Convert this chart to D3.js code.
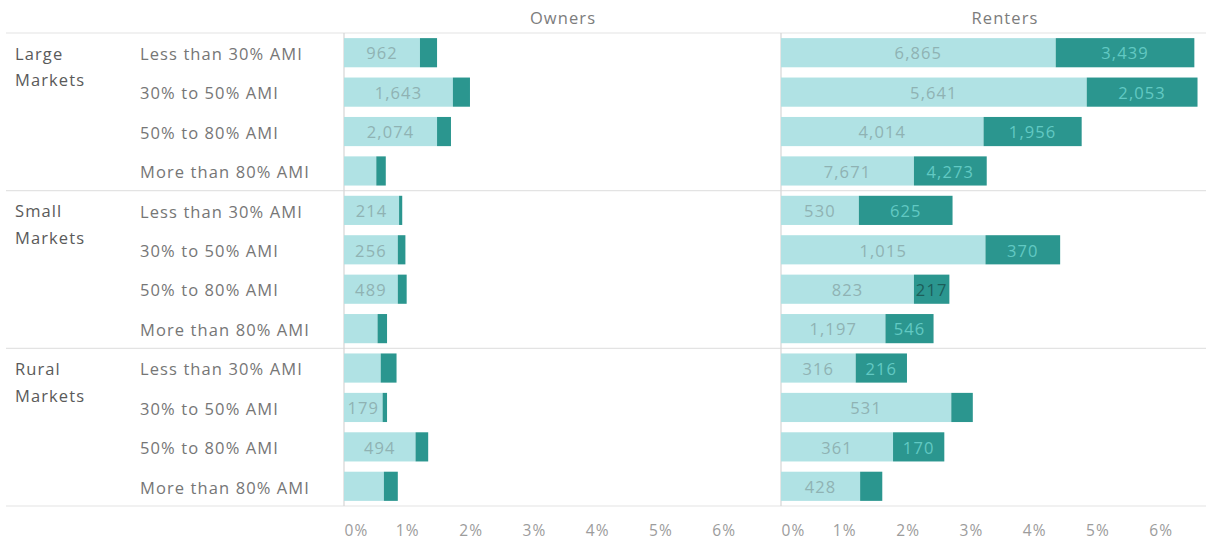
<!DOCTYPE html>
<html>
<head>
<meta charset="utf-8">
<script src="https://cdn.jsdelivr.net/npm/d3@7"></script>
<style>
  html, body { margin: 0; padding: 0; background: #ffffff; }
  svg { display: block; font-family: "Open Sans", Lato, sans-serif; }
</style>
</head>
<body>
<svg id="chart" width="1206" height="541"></svg>
<script>
// ---- data ----
const groups = ["Large Markets", "Small Markets", "Rural Markets"];
const groupLines = [["Large", "Markets"], ["Small", "Markets"], ["Rural", "Markets"]];
const incomeBands = ["Less than 30% AMI", "30% to 50% AMI", "50% to 80% AMI", "More than 80% AMI"];
const tenures = ["Owners", "Renters"];

// bar lengths (% of households), 12 rows: group x income band
const ownersLightPct  = [1.20, 1.72, 1.47, 0.51, 0.87, 0.85, 0.85, 0.53, 0.58, 0.61, 1.13, 0.63];
const ownersDarkPct   = [0.27, 0.27, 0.22, 0.15, 0.05, 0.12, 0.14, 0.15, 0.25, 0.07, 0.20, 0.22];
const rentersLightPct = [4.34, 4.83, 3.20, 2.10, 1.23, 3.23, 2.10, 1.65, 1.18, 2.69, 1.77, 1.25];
const rentersDarkPct  = [2.19, 1.75, 1.55, 1.15, 1.48, 1.18, 0.56, 0.76, 0.81, 0.34, 0.81, 0.35];

// mark labels (household counts); null = no label shown
const ownersLightLabel  = [962, 1643, 2074, null, 214, 256, 489, null, null, 179, 494, null];
const ownersDarkLabel   = [null, null, null, null, null, null, null, null, null, null, null, null];
const rentersLightLabel = [6865, 5641, 4014, 7671, 530, 1015, 823, 1197, 316, 531, 361, 428];
const rentersDarkLabel  = [3439, 2053, 1956, 4273, 625, 370, 217, 546, 216, null, 170, null];

const tickValues = [0, 1, 2, 3, 4, 5, 6];

// ---- build rows ----
const rows = [];
groups.forEach((g, gi) => incomeBands.forEach((b, bi) => rows.push({ key: g + "|" + b, group: gi, band: b })));
const series = {
  Owners:  { light: ownersLightPct,  dark: ownersDarkPct,  lightLab: ownersLightLabel,  darkLab: ownersDarkLabel },
  Renters: { light: rentersLightPct, dark: rentersDarkPct, lightLab: rentersLightLabel, darkLab: rentersDarkLabel }
};

// ---- layout ----
const svg = d3.select("#chart");
const W = 1206, H = 541;
const yTop = 33, yBottom = 506;
const panelX0 = { Owners: 344, Renters: 781 };
const panelW = 437;
const LIGHT = "#b0e2e4", DARK = "#2b968f";
const LIGHT_TXT = "#8fb2b3", DARK_TXT = "#62c9c3", OVER_TXT = "#1c5e5a";
const GRID = "#e3e3e3";
const LS = "1.1px";
const FS = 16.5;

const y = d3.scaleBand().domain(rows.map(r => r.key)).range([yTop, yBottom]).paddingInner(0.26).paddingOuter(0.13);
const x = d3.scaleLinear().domain([0, panelW / 63.3]).range([0, panelW]);
const fmt = d3.format(",");

// headers
tenures.forEach(t => {
  svg.append("text")
    .attr("x", t === "Owners" ? panelX0[t] + 219 : 1005)
    .attr("y", 18).attr("dy", "0.35em")
    .attr("text-anchor", "middle")
    .attr("fill", "#7c7c7c").attr("font-size", FS).attr("letter-spacing", LS)
    .text(t);
});

// horizontal group dividers
const bandStep = (yBottom - yTop) / rows.length;
[0, 4, 8, 12].forEach(i => {
  svg.append("line")
    .attr("x1", 6).attr("x2", W)
    .attr("y1", yTop + i * bandStep).attr("y2", yTop + i * bandStep)
    .attr("stroke", GRID).attr("stroke-width", 1.2);
});

// group labels
groupLines.forEach((lines, gi) => {
  lines.forEach((ln, li) => {
    svg.append("text")
      .attr("x", 15).attr("y", yTop + gi * 4 * bandStep + 21 + li * 26.5).attr("dy", "0.35em")
      .attr("fill", "#5a5a5a").attr("font-size", FS).attr("letter-spacing", LS)
      .text(ln);
  });
});

// row labels
svg.append("g").selectAll("text").data(rows).join("text")
  .attr("x", 140)
  .attr("y", d => y(d.key) + y.bandwidth() / 2 + 1.5).attr("dy", "0.35em")
  .attr("fill", "#767676").attr("font-size", FS).attr("letter-spacing", LS)
  .text(d => d.band);

// panels
tenures.forEach(t => {
  const s = series[t];
  const g = svg.append("g").attr("transform", `translate(${panelX0[t]},0)`);

  // zero line
  g.append("line").attr("x1", 0).attr("x2", 0).attr("y1", yTop).attr("y2", yBottom)
    .attr("stroke", "#d6d6d6").attr("stroke-width", 1.2);

  const data = rows.map((r, i) => ({
    key: r.key, light: s.light[i], dark: s.dark[i], lightLab: s.lightLab[i], darkLab: s.darkLab[i]
  }));

  g.selectAll("rect.light").data(data).join("rect").attr("class", "light")
    .attr("x", x(0)).attr("y", d => y(d.key))
    .attr("width", d => x(d.light) - x(0)).attr("height", y.bandwidth())
    .attr("fill", LIGHT);

  g.selectAll("rect.dark").data(data).join("rect").attr("class", "dark")
    .attr("x", d => x(d.light)).attr("y", d => y(d.key))
    .attr("width", d => x(d.light + d.dark) - x(d.light)).attr("height", y.bandwidth())
    .attr("fill", DARK);

  g.selectAll("text.llab").data(data.filter(d => d.lightLab != null)).join("text").attr("class", "llab")
    .attr("x", d => (x(0) + x(d.light)) / 2)
    .attr("y", d => y(d.key) + y.bandwidth() / 2 + 1).attr("dy", "0.35em")
    .attr("text-anchor", "middle").attr("font-size", FS).attr("letter-spacing", LS).attr("fill", LIGHT_TXT)
    .text(d => fmt(d.lightLab));

  g.selectAll("text.dlab").data(data.filter(d => d.darkLab != null)).join("text").attr("class", "dlab")
    .attr("x", d => (x(d.light) + x(d.light + d.dark)) / 2)
    .attr("y", d => y(d.key) + y.bandwidth() / 2 + 1).attr("dy", "0.35em")
    .attr("text-anchor", "middle").attr("font-size", FS).attr("letter-spacing", LS)
    .text(d => fmt(d.darkLab))
    .attr("fill", function (d) {
      const segW = x(d.light + d.dark) - x(d.light);
      return this.getComputedTextLength() + 4 > segW ? OVER_TXT : DARK_TXT;
    });

  // axis
  const axis = d3.axisBottom(x).tickValues(tickValues).tickFormat(d => d + "%").tickSize(0).tickPadding(0);
  const ag = g.append("g").attr("transform", `translate(0,${yBottom + 18})`).call(axis);
  ag.select(".domain").remove();
  ag.selectAll("text").attr("font-size", 15.5).attr("fill", "#9c9c9c").attr("font-family", "\"Open Sans\", sans-serif")
    .attr("letter-spacing", LS)
    .attr("dy", "0.75em")
    .attr("text-anchor", d => d === 0 ? "start" : "middle");
});
</script>
</body>
</html>
